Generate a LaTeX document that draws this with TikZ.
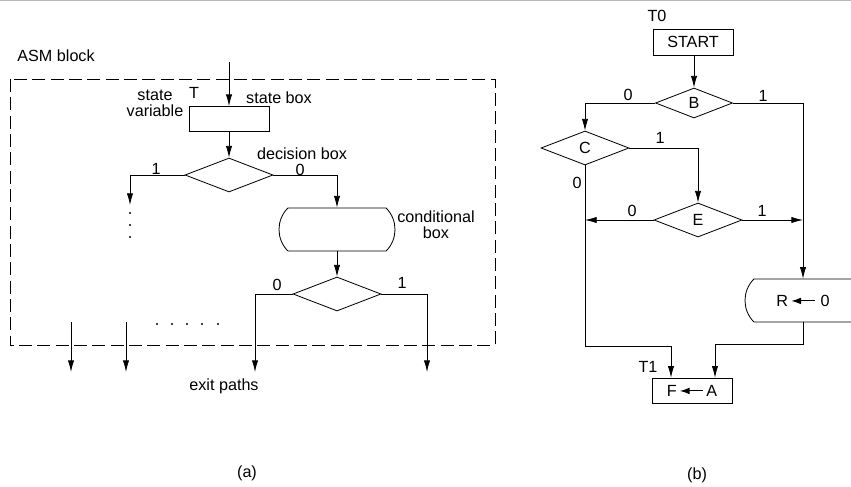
\documentclass[tikz,border=0pt]{standalone}
\usepackage{fontspec}
\setmainfont{Liberation Sans}
\usetikzlibrary{calc,shapes.geometric,shapes.misc,arrows.meta}

% Mui ten gan trong hop
\newcommand{\asgn}{\tikz[baseline=-0.6ex]\draw[{Latex[length=2.9mm,width=2mm]}-, line width=0.9pt] (0,0) -- (7mm,0);}

\begin{document}
\begin{tikzpicture}[x=0.3mm, y=-0.3mm, line width=0.7pt,
        >={Latex[length=3.5mm,width=1.9mm]},
        every node/.style={font=\fontsize{13.8}{13.6}\selectfont, inner sep=0pt},
        sbox/.style={draw, rectangle, minimum width=24mm, minimum height=7.5mm},
        dbox/.style={draw, diamond, minimum width=26.4mm, minimum height=10.2mm},
        cbox/.style={draw, rounded rectangle, rounded rectangle arc length=90,
            minimum width=34.8mm, minimum height=12.9mm},
        blk/.style={dash pattern=on 3.9mm off 1.6mm}]
        \useasboundingbox (0,0) rectangle (851,486);
        % Vet tren cung
        \draw[gray!55, line width=0.5pt] (0,0.6) -- (851,0.6);
        %
        % (a) ASM block
        \node[anchor=west] (asm) at (17,56) {ASM block};
        \draw[blk] (10,79) rectangle (495,345);
        \coordinate (in) at (229,62);
        \node[sbox] (st) at (229,119) {};
        \node[align=center] (stvar) at (155,103) {state\\variable};
        \node (T) at (194,93) {T};
        \node (stlbl) at (279,98) {state box};
        \draw[->] (in) -- (st);
        % Hop quyet dinh
        \node[dbox] (d1) at (229,175) {};
        \node (dlbl) at (302,154) {decision box};
        \draw[->] (st) -- (d1);
        \coordinate (l1) at (130,205);
        \draw[->] (d1.west) -| (l1);
        \node (d1one) at (156,169) {1};
        \foreach \y in {213,225,237}
            \fill (130,\y) circle (1pt);
        % Hop dieu kien
        \node[cbox] (cb) at (337,229.5) {};
        \node[align=center] (cblbl) at (436,225) {conditional\\box};
        \draw[->] (d1.east) -| (cb.north);
        \node (d1zero) at (300,170) {0};
        \node[dbox] (d2) at (337,294) {};
        \draw[->] (cb) -- (d2);
        \node (d2zero) at (277,285) {0};
        \node (d2one) at (402,283) {1};
        % Cac loi ra
        \foreach \x [count=\i] in {71,126} {
            \coordinate (top\i) at (\x,322);
            \coordinate (ex\i) at (\x,372);
            \draw[->] (top\i) -- (ex\i);
        }
        \coordinate (ex3) at (255,372);
        \coordinate (ex4) at (427,372);
        \draw[->] (d2.west) -| (ex3);
        \draw[->] (d2.east) -| (ex4);
        \foreach \x in {157,172,187,202,218}
            \fill (\x,324) circle (1pt);
        \node (exlbl) at (224,386) {exit paths};
        \node (capa) at (247,473) {(a)};
        %
        % (b)
        \node (t0) at (657,16) {T0};
        \node[sbox, minimum height=7.8mm] (start) at (693,42) {START};
        \node[dbox, minimum width=23.1mm, minimum height=9mm] (B) at (694,103) {B};
        \node[dbox] (C) at (585,148) {C};
        \node[dbox] (E) at (698,220) {E};
        \node[cbox] (R) at (803,300.5) {R\,\asgn\,\,0};
        \node[sbox] (F) at (692,390.5) {F\,\asgn\,A};
        \node (t1) at (648,367) {T1};
        \draw[->] (start.south -| B.north) -- (B);
        \draw[->] (B.west) -| (C.north);
        \node (bzero) at (628,95) {0};
        \draw[->] (B.east) -| (R.north);
        \node (bone) at (763,96) {1};
        \draw[->] (C.east) -| (E.north);
        \node (cone) at (660,138) {1};
        \node (czero) at (577,183) {0};
        \draw[->] (E.west) -- (E.west -| C.south);
        \node (ezero) at (632,211) {0};
        \draw[->] (E.east) -- (E.east -| R.north);
        \node (eone) at (762,211) {1};
        % Vao hop F
        \coordinate (cj) at (671,346);
        \coordinate (rj) at (715,344);
        \draw[->] (C.south) |- (cj) -- (cj |- F.north);
        \draw[->] (R.south) |- (rj) -- (rj |- F.north);
        \node (capb) at (697,475) {(b)};
    \end{tikzpicture}
\end{document}
